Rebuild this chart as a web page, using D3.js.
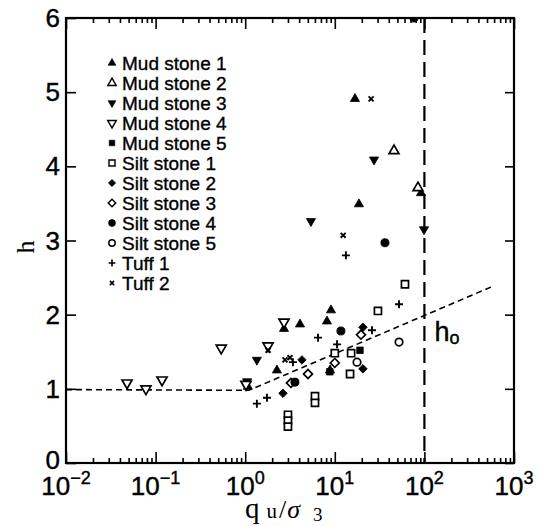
<!DOCTYPE html>
<html>
<head>
<meta charset="utf-8">
<script src="https://cdn.jsdelivr.net/npm/d3@7"></script>
<style>
    body { margin: 0; background: #fff; }
</style>
</head>
<body>
<div id="chart"></div>
<script>
// points: [q_u / sigma_3, h]
const mudStone1 = [[16.8, 4.91], [18.6, 3.49], [91.6, 3.64], [9.07, 2.06], [8.18, 1.91], [4.09, 1.87],
    [2.26, 1.25], [1.07, 1.03], [8.84, 1.25], [2.71, 1.81]];
const mudStone2 = [[45.8, 4.21], [84.8, 3.71]];
const mudStone3 = [[27.4, 4.09], [5.42, 3.26], [99, 3.15], [1.35, 1.39], [1.05, 1.10]];
const mudStone4 = [[0.048, 1.08], [0.078, 1.00], [0.118, 1.12], [0.54, 1.55], [1.80, 1.58], [2.71, 1.90], [1.02, 1.06]];
const mudStone5 = [[19.1, 1.52], [8.8, 1.23]];
const siltStone1 = [[60.7, 2.41], [30.3, 2.05], [10.0, 1.48], [15.2, 1.48], [14.8, 1.20], [6.01, 0.90], [6.01, 0.81],
    [3.0, 0.65], [3.0, 0.57], [3.0, 0.49]];
const siltStone2 = [[20.6, 1.83], [20.6, 1.27], [4.30, 1.39], [2.64, 0.94]];
const siltStone3 = [[19.6, 1.73], [10.0, 1.35], [5.02, 1.20], [3.24, 1.08]];
const siltStone4 = [[11.7, 1.78], [36.3, 2.97], [3.59, 1.09], [76.5, 6.0]];
const siltStone5 = [[52.1, 1.63], [17.7, 1.36]];
const tuff1 = [[13.3, 2.80], [52.1, 2.14], [26.0, 1.79], [6.50, 1.69], [10.6, 1.60], [1.35, 0.80], [1.75, 0.88], [3.41, 1.36]];
const tuff2 = [[25.4, 4.91], [12.4, 3.07], [1.80, 1.52], [2.78, 1.39], [3.16, 1.42]];

const seriesNames = ["Mud stone 1", "Mud stone 2", "Mud stone 3", "Mud stone 4", "Mud stone 5",
    "Silt stone 1", "Silt stone 2", "Silt stone 3", "Silt stone 4", "Silt stone 5", "Tuff 1", "Tuff 2"];
const seriesData = [mudStone1, mudStone2, mudStone3, mudStone4, mudStone5,
    siltStone1, siltStone2, siltStone3, siltStone4, siltStone5, tuff1, tuff2];

// dashed fit line and the h0 limit
const fitLine = [[0.01, 0.99], [1.1, 0.98], [600, 2.39]];
const hLimit = 100;

const xExponents = [-2, -1, 0, 1, 2, 3];
const yTicks = [0, 1, 2, 3, 4, 5, 6];

// marker look for each series (same order as names)
const markerStyles = [
    { shape: 'tri', size: 36, fill: true, rot: 0 },
    { shape: 'tri', size: 42, fill: false, rot: 0 },
    { shape: 'tri', size: 36, fill: true, rot: 180 },
    { shape: 'tri', size: 44, fill: false, rot: 180 },
    { shape: 'square', size: 42, fill: true, rot: 0 },
    { shape: 'square', size: 50, fill: false, rot: 0 },
    { shape: 'square', size: 36, fill: true, rot: 45 },
    { shape: 'square', size: 40, fill: false, rot: 45 },
    { shape: 'circle', size: 52, fill: true, rot: 0 },
    { shape: 'circle', size: 44, fill: false, rot: 0 },
    { shape: 'plus', size: 4, fill: false, rot: 0 },
    { shape: 'plus', size: 3.5, fill: false, rot: 45 }
];

const width = 544, height = 526;
const margin = { left: 66, right: 30, top: 18, bottom: 63 };

let svg = d3.select('#chart')
    .append('svg')
    .attr('width', width)
    .attr('height', height);

let xScale = d3.scaleLog()
    .domain([1e-2, 1e3])
    .range([margin.left, width - margin.right]);

let yScale = d3.scaleLinear()
    .domain([0, 6])
    .range([height - margin.bottom, margin.top]);

const x0 = xScale.range()[0], x1 = xScale.range()[1];
const y0 = yScale.range()[0], y1 = yScale.range()[1];

svg.append('clipPath')
    .attr('id', 'plot-clip')
    .append('rect')
    .attr('x', x0)
    .attr('y', y1)
    .attr('width', x1 - x0)
    .attr('height', y0 - y1);

//all decade + minor tick values for the log axis
let minorTicks = [];
for (let e = -2; e < 3; e++) {
    for (let m = 2; m < 10; m++) minorTicks.push(m * Math.pow(10, e));
}
let majorTicks = xExponents.map(e => Math.pow(10, e));

let axes = svg.append('g').attr('id', 'axes');

// bottom and top axes, ticks point inwards
axes.append('g')
    .attr('transform', `translate(0, ${y0})`)
    .call(d3.axisTop(xScale).tickValues(minorTicks).tickSize(5).tickFormat(''))
    .call(g => g.select('.domain').remove());
axes.append('g')
    .attr('transform', `translate(0, ${y0})`)
    .call(d3.axisTop(xScale).tickValues(majorTicks).tickSize(11).tickFormat(''))
    .call(g => g.select('.domain').remove());
axes.append('g')
    .attr('transform', `translate(0, ${y1})`)
    .call(d3.axisBottom(xScale).tickValues(minorTicks).tickSize(5).tickFormat(''))
    .call(g => g.select('.domain').remove());
axes.append('g')
    .attr('transform', `translate(0, ${y1})`)
    .call(d3.axisBottom(xScale).tickValues(majorTicks).tickSize(11).tickFormat(''))
    .call(g => g.select('.domain').remove());

// left and right axes
axes.append('g')
    .attr('transform', `translate(${x0}, 0)`)
    .call(d3.axisRight(yScale).tickValues(yTicks).tickSize(10).tickFormat(''))
    .call(g => g.select('.domain').remove());
axes.append('g')
    .attr('transform', `translate(${x1}, 0)`)
    .call(d3.axisLeft(yScale).tickValues(yTicks).tickSize(9).tickFormat(''))
    .call(g => g.select('.domain').remove());

axes.selectAll('.tick line')
    .attr('stroke', '#000')
    .attr('stroke-width', 1.6);

// frame
svg.append('rect')
    .attr('x', x0)
    .attr('y', y1)
    .attr('width', x1 - x0)
    .attr('height', y0 - y1)
    .attr('fill', 'none')
    .attr('stroke', '#000')
    .attr('stroke-width', 2.2);

// tick labels
const labelFont = "'Liberation Sans', Arial, sans-serif";
const serifFont = "'Liberation Serif', 'DejaVu Serif', serif";

svg.append('g')
    .selectAll('text')
    .data(yTicks)
    .join('text')
    .attr('x', x0 - 6)
    .attr('y', d => yScale(d) + (d === 0 ? 6 : 9))
    .attr('text-anchor', 'end')
    .attr('font-family', labelFont)
    .attr('font-size', 26)
    .attr('fill', '#000')
    .attr('stroke', '#000')
    .attr('stroke-width', 0.4)
    .text(d => d);

let xLabels = svg.append('g')
    .selectAll('text')
    .data(xExponents)
    .join('text')
    .attr('x', d => xScale(Math.pow(10, d)))
    .attr('y', y0 + 32)
    .attr('text-anchor', 'middle')
    .attr('font-family', labelFont)
    .attr('font-size', 26)
    .attr('fill', '#000')
    .attr('stroke', '#000')
    .attr('stroke-width', 0.4);
xLabels.append('tspan').text('10');
xLabels.append('tspan')
    .attr('dy', -11)
    .attr('font-size', 18)
    .text(d => d < 0 ? '\u2212' + (-d) : d);

// axis titles
svg.append('text')
    .attr('transform', `translate(34, 247) rotate(-90)`)
    .attr('text-anchor', 'middle')
    .attr('font-family', serifFont)
    .attr('font-size', 26)
    .attr('fill', '#000')
    .text('h');

let xTitle = svg.append('text')
    .attr('x', 245)
    .attr('y', 518)
    .attr('font-family', serifFont)
    .attr('fill', '#000');
xTitle.append('tspan').attr('font-size', 29).text('q');
xTitle.append('tspan').attr('font-size', 21).attr('dx', 7).text('u');
xTitle.append('tspan').attr('font-size', 26).attr('dx', 2).text('/');
xTitle.append('tspan').attr('font-size', 26).attr('dx', 1).attr('font-style', 'italic').text('σ');
xTitle.append('tspan').attr('font-size', 19).attr('dx', 13).attr('dy', 3).text('3');

let plot = svg.append('g')
    .attr('clip-path', 'url(#plot-clip)');

// dashed fit line
let lineGen = d3.line()
    .x(d => xScale(d[0]))
    .y(d => yScale(d[1]));

plot.append('path')
    .datum(fitLine)
    .attr('d', lineGen)
    .attr('fill', 'none')
    .attr('stroke', '#000')
    .attr('stroke-width', 1.6)
    .attr('stroke-dasharray', '6,4');

// vertical h0 limit
plot.append('line')
    .attr('x1', xScale(hLimit))
    .attr('x2', xScale(hLimit))
    .attr('y1', yScale(6))
    .attr('y2', yScale(0))
    .attr('stroke', '#000')
    .attr('stroke-width', 2.2)
    .attr('stroke-dasharray', '15,7');

let h0 = svg.append('text')
    .attr('x', xScale(hLimit) + 10)
    .attr('y', yScale(1.65))
    .attr('font-family', labelFont)
    .attr('font-size', 27)
    .attr('fill', '#000')
    .attr('stroke', '#000')
    .attr('stroke-width', 0.4);
h0.append('tspan').text('h');
h0.append('tspan').attr('font-size', 18).attr('dy', 3).text('o');

// builds the path for a marker
function markerPath(style) {
    if (style.shape === 'plus') {
        let s = style.size;
        return `M${-s},0H${s}M0,${-s}V${s}`;
    }
    let type = style.shape === 'tri' ? d3.symbolTriangle
        : style.shape === 'square' ? d3.symbolSquare : d3.symbolCircle;
    return d3.symbol().type(type).size(style.size)();
}

function drawMarker(sel, style) {
    sel.attr('d', markerPath(style))
        .attr('fill', style.fill ? '#000' : '#fff')
        .attr('stroke', '#000')
        .attr('stroke-width', style.shape === 'plus' ? 1.9 : (style.fill ? 0.8 : 1.7));
}

seriesData.forEach((points, i) => {
    let style = markerStyles[i];
    plot.append('g')
        .attr('class', 'series')
        .selectAll('path')
        .data(points)
        .join('path')
        .attr('transform', d => `translate(${xScale(d[0])}, ${yScale(d[1])}) rotate(${style.rot})`)
        .call(drawMarker, style);
});

// legend
let legend = svg.append('g')
    .attr('id', 'legend')
    .attr('transform', 'translate(112, 63)');

let items = legend.selectAll('g')
    .data(seriesNames)
    .join('g')
    .attr('transform', (d, i) => `translate(0, ${i * 20})`);

items.append('path')
    .attr('transform', (d, i) => `rotate(${markerStyles[i].rot}) scale(0.85)`)
    .each(function (d, i) { drawMarker(d3.select(this), markerStyles[i]); });

items.append('text')
    .attr('x', 10)
    .attr('y', 7)
    .attr('font-family', labelFont)
    .attr('font-size', 19)
    .attr('fill', '#000')
    .attr('stroke', '#000')
    .attr('stroke-width', 0.35)
    .text(d => d);
</script>
</body>
</html>
